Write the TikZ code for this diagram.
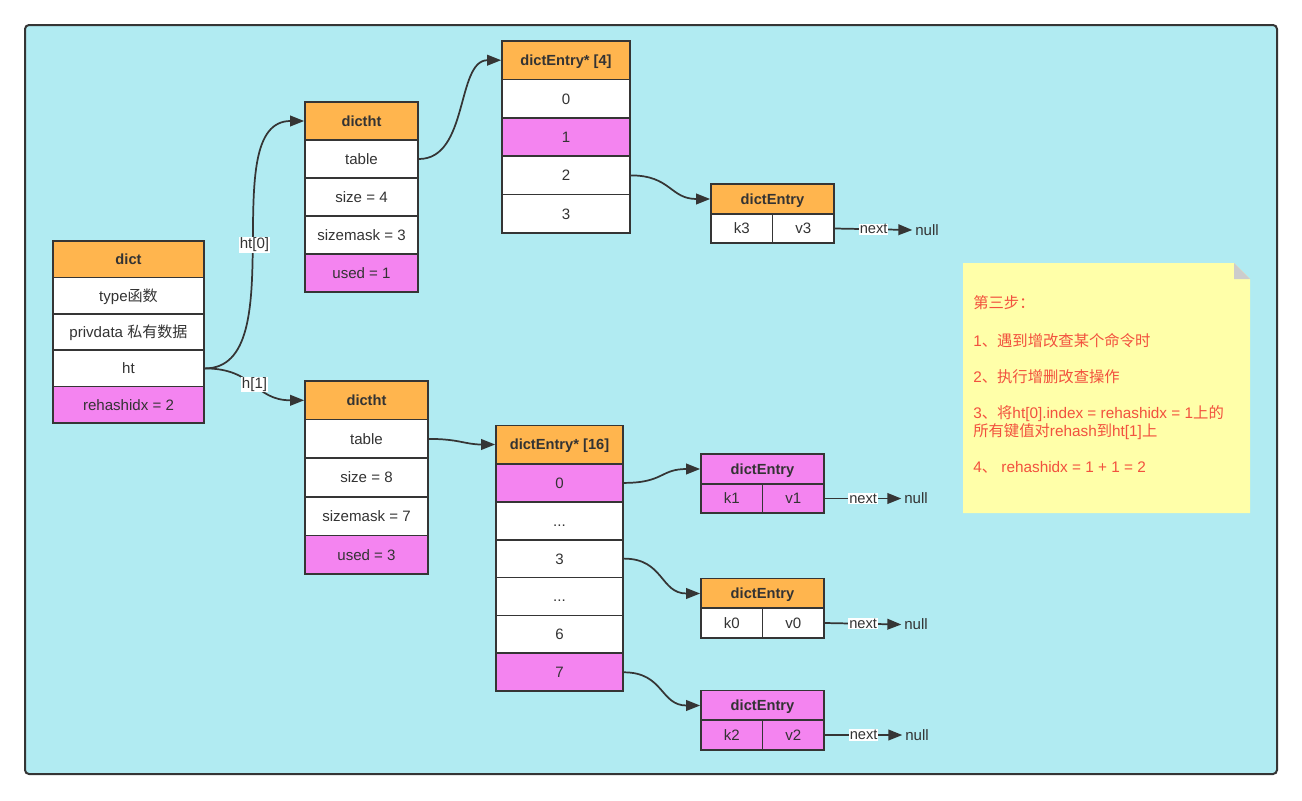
\documentclass[tikz,border=0pt]{standalone}
\usepackage{fontspec}
\setmainfont{Liberation Sans}
\newfontfamily\cjk{Noto Sans CJK SC}
\usetikzlibrary{arrows.meta}
\definecolor{bgc}{HTML}{B1EBF2}
\definecolor{orangec}{HTML}{FFB54E}
\definecolor{pinkc}{HTML}{F484F0}
\definecolor{edge}{HTML}{353535}
\definecolor{ink}{HTML}{333333}
\definecolor{notec}{HTML}{FFFFA9}
\definecolor{notered}{HTML}{F2513E}
\begin{document}
\begin{tikzpicture}[x=0.75pt, y=-0.75pt,
		every node/.style={inner sep=0, text=ink, font=\fontsize{11.3}{13}\selectfont},
		txt/.style={text height=8.2pt, text depth=0pt},
		cell/.style={txt, draw=edge, line width=1.3pt, fill=white},
		head/.style={cell, fill=orangec, font=\fontsize{11}{13}\selectfont\bfseries},
		hit/.style={cell, fill=pinkc},
		dictcol/.style={minimum width=113.25pt, minimum height=27.3pt},
		htcol/.style={minimum width=84.75pt, minimum height=28.5pt},
		htcolb/.style={minimum width=92.25pt, minimum height=28.95pt},
		tabcol/.style={minimum width=96pt, minimum height=28.8pt},
		tabcolb/.style={minimum width=95.25pt, minimum height=28.4pt},
		entcol/.style={minimum width=92.25pt, minimum height=22.5pt},
		halfcol/.style={minimum width=46.125pt, minimum height=22pt},
		nullbox/.style={txt, inner xsep=2pt},
		link/.style={draw=edge, line width=1.3pt, -{Triangle[length=10.5pt, width=8pt]}},
		lbl/.style={fill=white, inner sep=0.6pt, font=\fontsize{11.3}{13}\selectfont},
		nextlbl/.style={fill=white, inner sep=0.6pt, font=\fontsize{11}{12}\selectfont},
	]
	\useasboundingbox (0,0) rectangle (1302,800);
	\draw[edge, line width=1.5pt, fill=bgc, rounded corners=3pt] (25,25) rectangle (1277,774);

	\node[head, dictcol] (dict) at (128.5,259.2) {dict};
	\node[cell, dictcol] (dict-type) at (128.5,295.6) {type{\cjk 函数}};
	\node[cell, dictcol] (dict-priv) at (128.5,332) {privdata {\cjk 私有数据}};
	\node[cell, dictcol] (dict-ht) at (128.5,368.4) {ht};
	\node[hit, dictcol] (dict-idx) at (128.5,404.8) {rehashidx = 2};

	\node[head, htcol] (ht0) at (361.5,121) {dictht};
	\node[cell, htcol] (ht0-table) at (361.5,159) {table};
	\node[cell, htcol] (ht0-size) at (361.5,197) {size = 4};
	\node[cell, htcol] (ht0-mask) at (361.5,235) {sizemask = 3};
	\node[hit, htcol] (ht0-used) at (361.5,273) {used = 1};

	\node[head, htcolb] (ht1) at (366.5,400.3) {dictht};
	\node[cell, htcolb] (ht1-table) at (366.5,438.9) {table};
	\node[cell, htcolb] (ht1-size) at (366.5,477.5) {size = 8};
	\node[cell, htcolb] (ht1-mask) at (366.5,516.1) {sizemask = 7};
	\node[hit, htcolb] (ht1-used) at (366.5,554.7) {used = 3};

	\node[head, tabcol] (tab4) at (566,60.2) {dictEntry* [4]};
	\node[cell, tabcol] (tab4-0) at (566,98.6) {0};
	\node[hit, tabcol] (tab4-1) at (566,137) {1};
	\node[cell, tabcol] (tab4-2) at (566,175.4) {2};
	\node[cell, tabcol] (tab4-3) at (566,213.8) {3};

	\node[head, tabcolb] (tab16) at (559.5,444.5) {dictEntry* [16]};
	\node[hit, tabcolb] (tab16-0) at (559.5,482.9) {0};
	\node[cell, tabcolb] (tab16-a) at (559.5,520.8) {...};
	\node[cell, tabcolb] (tab16-3) at (559.5,558.6) {3};
	\node[cell, tabcolb] (tab16-b) at (559.5,596.5) {...};
	\node[cell, tabcolb] (tab16-6) at (559.5,634.4) {6};
	\node[hit, tabcolb] (tab16-7) at (559.5,672.3) {7};

	\node[head, entcol] (e3) at (772.5,199) {dictEntry};
	\node[cell, halfcol] (e3-k) at (741.75,228.5) {k3};
	\node[cell, halfcol] (e3-v) at (803.25,228.5) {v3};
	\node[nullbox] (null3) at (927,230) {null};

	\node[hit, entcol, font=\fontsize{11}{13}\selectfont\bfseries] (e1) at (762.5,469) {dictEntry};
	\node[hit, halfcol] (e1-k) at (731.75,498.5) {k1};
	\node[hit, halfcol] (e1-v) at (793.25,498.5) {v1};
	\node[nullbox] (null1) at (916,498.5) {null};

	\node[head, entcol] (e0) at (762.5,593.5) {dictEntry};
	\node[cell, halfcol] (e0-k) at (731.75,623) {k0};
	\node[cell, halfcol] (e0-v) at (793.25,623) {v0};
	\node[nullbox] (null0) at (916,624.5) {null};

	\node[hit, entcol, font=\fontsize{11}{13}\selectfont\bfseries] (e2) at (762.5,705.5) {dictEntry};
	\node[hit, halfcol] (e2-k) at (731.75,735) {k2};
	\node[hit, halfcol] (e2-v) at (793.25,735) {v2};
	\node[nullbox] (null2) at (917,735) {null};

	\draw[link] (dict-ht.east) .. controls +(90,0) and +(-90,0) .. node[lbl]{ht[0]} (ht0.west);
	\draw[link] (dict-ht.east) .. controls +(50,0) and +(-50,0) .. node[lbl]{h[1]} (ht1.west);
	\draw[link] (ht0-table.east) .. controls +(50,0) and +(-45,0) .. (tab4.west);
	\draw[link] (ht1-table.east) .. controls +(30,0) and +(-30,0) .. (tab16.west);
	\draw[link] (tab4-2.east) .. controls +(40,0) and +(-40,0) .. (e3.west);
	\draw[link] (tab16-0.east) .. controls +(40,0) and +(-40,0) .. (e1.west);
	\draw[link] (tab16-3.east) .. controls +(40,0) and +(-40,0) .. (e0.west);
	\draw[link] (tab16-7.east) .. controls +(40,0) and +(-40,0) .. (e2.west);
	\draw[link] (e3-v.east) -- node[nextlbl]{next} (null3.west);
	\draw[link] (e1-v.east) -- node[nextlbl]{next} (null1.west);
	\draw[link] (e0-v.east) -- node[nextlbl]{next} (null0.west);
	\draw[link] (e2-v.east) -- node[nextlbl]{next} (null2.west);

	\fill[notec] (963,263) -- (1234,263) -- (1250,279) -- (1250,513) -- (963,513) -- cycle;
	\fill[black!20] (1234,263) -- (1234,279) -- (1250,279) -- cycle;
	\node[anchor=north west, align=left, text=notered, font=\fontsize{11.5}{13.5}\selectfont] (steps) at (973,295) {%
		{\cjk 第三步：}\\[15.5pt]
		1{\cjk 、遇到增改查某个命令时}\\[13.5pt]
		2{\cjk 、执行增删改查操作}\\[13.5pt]
		3{\cjk 、将}ht[0].index = rehashidx = 1{\cjk 上的}\\
		{\cjk 所有键值对}rehash{\cjk 到}ht[1]{\cjk 上}\\[13.5pt]
		4{\cjk 、} rehashidx = 1 + 1 = 2};
\end{tikzpicture}
\end{document}
